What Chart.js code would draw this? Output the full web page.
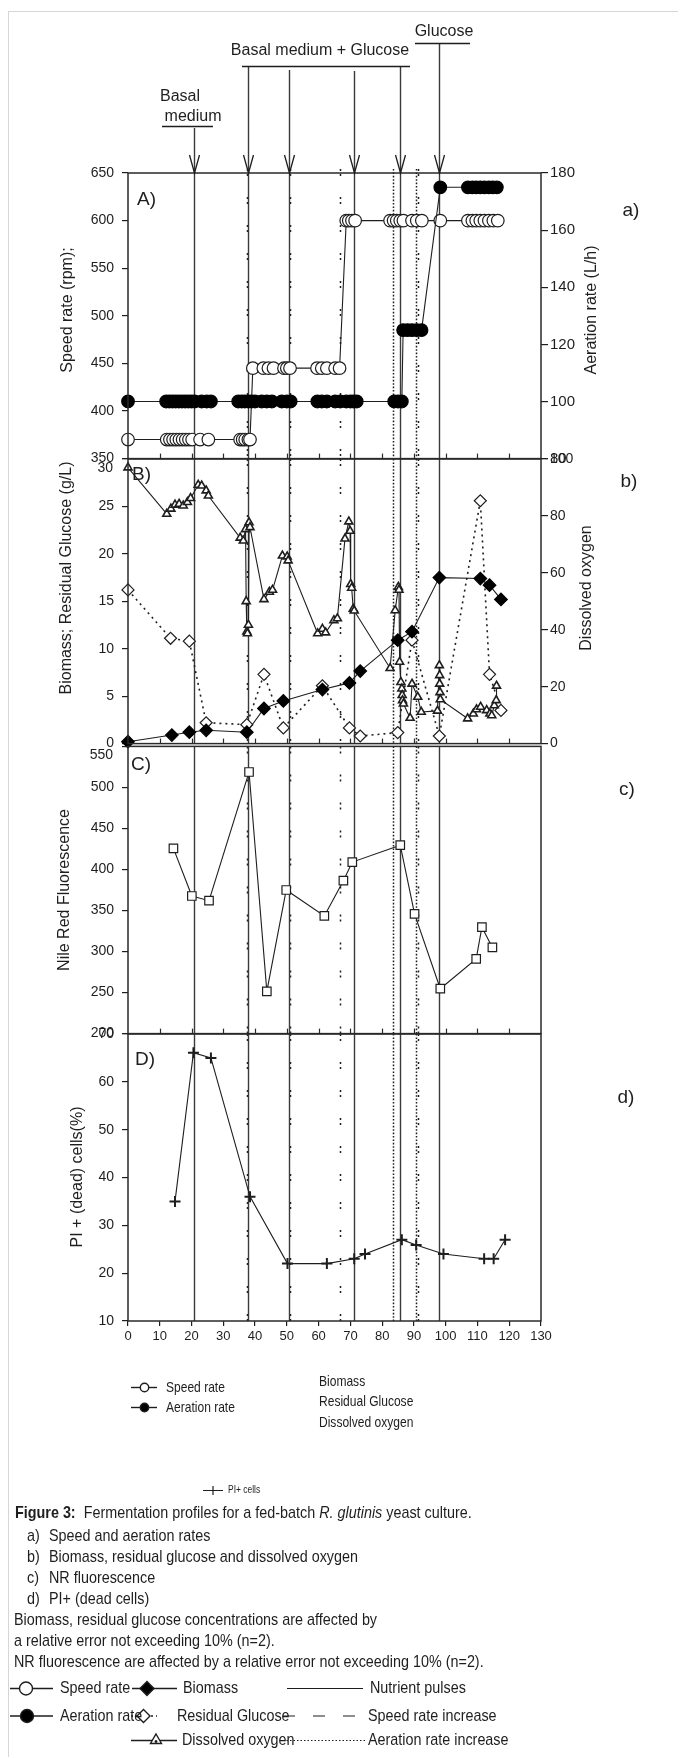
<!DOCTYPE html>
<html>
<head>
<meta charset="utf-8">
<title>Fermentation profiles - fed-batch R. glutinis</title>
<script src="https://cdn.jsdelivr.net/npm/chart.js@4.4.1/dist/chart.umd.min.js"></script>
<style>
  html, body { margin: 0; padding: 0; background: #fff; }
  #fig { position: relative; width: 684px; height: 1758px; overflow: hidden;
         font-family: "Liberation Sans", Arial, Helvetica, sans-serif; color: #1e1e1e; }
  #fig canvas { position: absolute; left: 0; }
  .frame { position: absolute; left: 8px; top: 11px; right: 6px; bottom: 1px;
           border-left: 1px solid #d6d6d6; border-top: 1px solid #d6d6d6; }
  .t { position: absolute; white-space: nowrap; line-height: 1; font-size: 17px;
       transform: scaleX(.845); transform-origin: 0 0; }
  .s { font-size: 14.5px; transform: scaleX(.83); }
  .xs { font-size: 10px; }
  svg { position: absolute; left: 0; top: 0; }
</style>
</head>
<body>
<div id="fig">
  <div class="frame"></div>
  <canvas id="panelA" width="684" height="475" style="top:0"></canvas>
  <canvas id="panelB" width="684" height="320" style="top:440px"></canvas>
  <canvas id="panelC" width="684" height="320" style="top:730px"></canvas>
  <canvas id="panelD" width="684" height="345" style="top:1015px"></canvas>

  <svg width="684" height="1758">
    <g stroke="#1e1e1e" stroke-width="1.4" fill="none">
      <!-- legend under the plots -->
      <line x1="131" y1="1387.5" x2="157" y2="1387.5"/><circle cx="144.5" cy="1387.5" r="4.2" fill="#fff"/>
      <line x1="131" y1="1407.5" x2="157" y2="1407.5"/><circle cx="144.5" cy="1407.5" r="4.2" fill="#000"/>
      <line x1="203" y1="1490.5" x2="223" y2="1490.5" stroke-width="1"/><line x1="213" y1="1486" x2="213" y2="1495" stroke-width="1.2"/>
      <!-- caption legend -->
      <line x1="10" y1="1688.5" x2="53" y2="1688.5"/><circle cx="26" cy="1688.5" r="6.5" fill="#fff"/>
      <line x1="132" y1="1688.5" x2="177" y2="1688.5"/><path d="M147 1681.5 L154 1688.5 L147 1695.5 L140 1688.5 Z" fill="#000"/>
      <line x1="287" y1="1688.5" x2="363" y2="1688.5" stroke-width="1.1"/>
      <line x1="10" y1="1716" x2="53" y2="1716"/><circle cx="27" cy="1716" r="6.5" fill="#000"/>
      <line x1="131" y1="1716" x2="157" y2="1716" stroke-dasharray="2,3"/><path d="M143.5 1709.5 L150 1716 L143.5 1722.5 L137 1716 Z" fill="#fff"/>
      <line x1="283" y1="1716" x2="355" y2="1716" stroke-dasharray="12,18" stroke-width="1.1"/>
      <line x1="131" y1="1740.5" x2="177" y2="1740.5"/><path d="M156 1734 L161.5 1743.5 L150.5 1743.5 Z" fill="#fff"/><circle cx="156" cy="1741.5" r="0.8" fill="#000"/>
      <line x1="283" y1="1740.5" x2="367" y2="1740.5" stroke-dasharray="1.5,2" stroke-width="1.1"/>
    </g>
  </svg>

  <div class="t s" style="left:166px;top:1380px">Speed rate</div>
  <div class="t s" style="left:166px;top:1400px">Aeration rate</div>
  <div class="t s" style="left:319px;top:1374px">Biomass</div>
  <div class="t s" style="left:319px;top:1394px">Residual Glucose</div>
  <div class="t s" style="left:319px;top:1415px">Dissolved oxygen</div>
  <div class="t xs" style="left:228px;top:1485px">PI+ cells</div>

  <div class="t" style="left:15px;top:1504px"><b>Figure 3:</b>&nbsp; Fermentation profiles for a fed-batch <i>R. glutinis</i> yeast culture.</div>
  <div class="t" style="left:27px;top:1527px">a)</div><div class="t" style="left:49px;top:1527px">Speed and aeration rates</div>
  <div class="t" style="left:27px;top:1548px">b)</div><div class="t" style="left:49px;top:1548px">Biomass, residual glucose and dissolved oxygen</div>
  <div class="t" style="left:27px;top:1569px">c)</div><div class="t" style="left:49px;top:1569px">NR fluorescence</div>
  <div class="t" style="left:27px;top:1590px">d)</div><div class="t" style="left:49px;top:1590px">PI+ (dead cells)</div>
  <div class="t" style="left:14px;top:1611px">Biomass, residual glucose concentrations are affected by</div>
  <div class="t" style="left:14px;top:1632px">a relative error not exceeding 10% (n=2).</div>
  <div class="t" style="left:14px;top:1653px">NR fluorescence are affected by a relative error not exceeding 10% (n=2).</div>
  <div class="t" style="left:60px;top:1679px">Speed rate</div>
  <div class="t" style="left:183px;top:1679px">Biomass</div>
  <div class="t" style="left:370px;top:1679px">Nutrient pulses</div>
  <div class="t" style="left:60px;top:1707px">Aeration rate</div>
  <div class="t" style="left:177px;top:1707px">Residual Glucose</div>
  <div class="t" style="left:368px;top:1707px">Speed rate increase</div>
  <div class="t" style="left:182px;top:1731px">Dissolved oxygen</div>
  <div class="t" style="left:368px;top:1731px">Aeration rate increase</div>
</div>

<script>
const FONT = '"Liberation Sans", Arial, Helvetica, sans-serif';
const INK = '#1e1e1e';
Chart.defaults.font.family = FONT;
Chart.defaults.color = INK;

// shared time axis (h)
const timeTicks = [0, 10, 20, 30, 40, 50, 60, 70, 80, 90, 100, 110, 120, 130];
// event lines (h)
const nutrientPulses = [20.7, 37.7, 50.6, 71.1, 85.5, 98];
const speedRateIncrease = [37.4, 50.9, 66.8, 91.4];
const aerationRateIncrease = [83.3, 90.7];

// A) speed and aeration rates
const speedTicks = [350, 400, 450, 500, 550, 600, 650];
const aerationTicks = [80, 100, 120, 140, 160, 180];
const speedTime = [0, 12.2, 13.2, 14.2, 15.2, 16.2, 17.2, 18.2, 19.2, 20.2, 22.7, 25.3,
  35.3, 36.1, 36.9, 37.9, 38.4, 39.3, 42.6, 44.2, 45.8, 49.1, 50.0, 51.0, 59.5, 61.0,
  62.6, 65.2, 66.6, 68.7, 69.5, 70.5, 71.5, 82.5, 83.6, 84.6, 85.7, 86.7, 89.4, 90.9,
  92.5, 98.3, 107.0, 108.4, 109.6, 110.9, 112.2, 113.6, 115.0, 116.4];
const speedRpm = [370, 370, 370, 370, 370, 370, 370, 370, 370, 370, 370, 370,
  370, 370, 370, 370, 370, 445, 445, 445, 445, 445, 445, 445, 445, 445,
  445, 445, 445, 600, 600, 600, 600, 600, 600, 600, 600, 600, 600, 600,
  600, 600, 600, 600, 600, 600, 600, 600, 600, 600];
const aerationTime = [0, 12.0, 13.0, 14.0, 15.0, 16.0, 17.0, 18.0, 19.0, 20.0, 21.0,
  23.2, 24.8, 26.1, 34.7, 35.8, 36.8, 37.9, 38.9, 40.0, 42.1, 43.7, 45.3, 48.4, 50.0,
  51.2, 59.6, 61.0, 62.6, 65.2, 66.8, 68.7, 70.0, 71.0, 72.0, 83.8, 85.0, 86.2,
  86.6, 88.0, 89.4, 90.9, 92.4, 98.3, 107.0, 108.4, 109.6, 110.9, 112.2, 113.6, 114.8, 116.1];
const aerationRate = [100, 100, 100, 100, 100, 100, 100, 100, 100, 100, 100,
  100, 100, 100, 100, 100, 100, 100, 100, 100, 100, 100, 100, 100, 100,
  100, 100, 100, 100, 100, 100, 100, 100, 100, 100, 100, 100, 100,
  125, 125, 125, 125, 125, 175, 175, 175, 175, 175, 175, 175, 175, 175];

// B) biomass, residual glucose (g/L) and dissolved oxygen
const biomassTicks = [0, 5, 10, 15, 20, 25, 30];
const oxygenTicks = [0, 20, 40, 60, 80, 100];
const oxygenTime = [0, 12.2, 13.5, 14.8, 16.1, 17.4, 18.7, 19.7, 22.1, 23.2, 24.6, 25.3,
  35.3, 36.3, 37.0, 37.2, 37.4, 37.6, 37.9, 38.1, 38.4, 42.8, 44.5, 45.5, 48.6, 50.1, 50.4,
  59.7, 61.2, 62.2, 64.8, 65.9, 68.3, 69.5, 69.9, 70.1, 70.4, 70.9, 71.2,
  82.5, 84.1, 85.1, 85.3, 85.5, 85.9, 86.2, 86.3, 86.4, 86.7, 88.8, 89.4, 91.2, 92.3,
  97.4, 98.0, 98.1, 98.1, 98.2, 98.3, 106.9, 108.7, 109.7, 111.0, 112.9, 113.9, 114.5,
  115.3, 115.9, 116.0];
const oxygenValue = [97, 80.7, 82.5, 83.9, 84.2, 83.6, 84.8, 86.2, 90.9, 90.6, 88.9, 87.1,
  72.3, 71.3, 75.3, 50, 39.3, 38.7, 41.7, 77.7, 76, 50.7, 53.3, 54, 66, 65.7, 64.3,
  38.7, 40.3, 39, 43.3, 44, 72, 78, 74.7, 56, 54.7, 47.3, 46.7,
  26.5, 46.8, 55, 54, 28.7, 21.6, 19.3, 17, 15.2, 14, 9.0, 21, 16.4, 11.1,
  11.5, 27.5, 24, 21, 18, 15.5, 8.8, 10.5, 12, 12.9, 11.7, 10.5, 9.9,
  13.4, 15.2, 20.3];
const biomassTime = [0, 13.8, 19.3, 24.6, 37.4, 42.8, 48.9, 61.2, 69.7, 73.1, 84.9, 89.4, 98, 110.9, 113.8, 117.4];
const biomassGL = [0.2, 0.9, 1.2, 1.4, 1.2, 3.7, 4.5, 5.7, 6.4, 7.65, 10.9, 11.8, 17.5, 17.4, 16.7, 15.2];
const glucoseTime = [0, 13.4, 19.3, 24.6, 37.4, 42.8, 48.9, 61.2, 69.7, 73.1, 84.9, 89.4, 98, 110.9, 113.8, 117.4];
const glucoseGL = [16.2, 11.1, 10.8, 2.2, 2.0, 7.3, 1.65, 6.1, 1.65, 0.8, 1.16, 10.9, 0.8, 25.6, 7.3, 3.5];

// C) Nile Red fluorescence
const nrTicks = [200, 250, 300, 350, 400, 450, 500, 550];
const nrTime = [14.3, 20.1, 25.5, 38.1, 43.7, 49.8, 61.8, 67.8, 70.6, 85.7, 90.2, 98.3, 109.6, 111.4, 114.7];
const nrValue = [425.7, 367.7, 362, 518.8, 251.5, 375, 343.4, 386.4, 409, 429.7, 345.9, 254.7, 291, 329.7, 305];

// D) PI+ (dead) cells (%)
const piTicks = [10, 20, 30, 40, 50, 60, 70];
const piTime = [14.8, 20.6, 26.1, 38.4, 50.2, 62.6, 71.2, 74.6, 86.2, 90.7, 99.3, 112.1, 115.1, 118.7];
const piValue = [35, 66.1, 65, 36, 22, 22, 23, 24, 27, 25.9, 24, 23, 23, 27];

const pts = (xs, ys) => xs.map((x, i) => ({ x, y: ys[i] }));

// page-level decoration for each panel (page coordinates)
const panelDecor = {
  panelA: {
    top: 0, innerTicks: true, arrows: true, overTop: 4,
    pulseTops: [128, 66, 70, 71, 66, 43],
    letter: ['A)', 137, 200], side: ['a)', 631, 211],
    leftTitle: ['Speed rate (rpm);', 68, 310], rightTitle: ['Aeration rate (L/h)', 592, 310],
    notes: [['Basal', 180, 97], ['medium', 193, 117], ['Basal medium + Glucose', 320, 51], ['Glucose', 444, 32]],
    bars: [[162, 213, 126], [242, 410, 66], [415, 470, 43]]
  },
  panelB: {
    top: 440, innerTicks: true,
    letter: ['B)', 132, 475], side: ['b)', 629, 482],
    leftTitle: ['Biomass; Residual Glucose (g/L)', 67, 578], rightTitle: ['Dissolved oxygen', 587, 588],
    shiftedTick: [biomassTicks[biomassTicks.length - 1], 113, 468]
  },
  panelC: {
    top: 730, innerTicks: true,
    letter: ['C)', 131, 765], side: ['c)', 627, 790],
    leftTitle: ['Nile Red Fluorescence', 65, 890],
    shiftedTick: [nrTicks[nrTicks.length - 1], 113, 755]
  },
  panelD: {
    top: 1015,
    letter: ['D)', 135, 1060], side: ['d)', 626, 1098],
    leftTitle: ['PI + (dead) cells(%)', 78, 1177]
  }
};

const decor = {
  id: 'decor',
  beforeDatasetsDraw(chart) {
    const o = panelDecor[chart.canvas.id];
    const { ctx, chartArea: a, scales: { x } } = chart;
    const vline = (v, y0, dash, w, col) => {
      const px = Math.round(x.getPixelForValue(v)) + 0.5;
      ctx.save();
      ctx.strokeStyle = col; ctx.lineWidth = w; ctx.setLineDash(dash);
      ctx.beginPath(); ctx.moveTo(px, y0); ctx.lineTo(px, a.bottom); ctx.stroke();
      ctx.restore();
    };
    const top = a.top - (o.overTop || 0);
    speedRateIncrease.forEach(v => vline(v, top, [2, 3, 2, 21], 1.5, INK));
    aerationRateIncrease.forEach(v => vline(v, top, [1.6, 1.8], 1.5, INK));
    nutrientPulses.forEach((v, i) => vline(v, o.pulseTops ? o.pulseTops[i] - o.top : a.top, [], 1.4, '#3a3a3a'));
  },
  afterDraw(chart) {
    const o = panelDecor[chart.canvas.id];
    const { ctx, chartArea: a, scales: { x } } = chart;
    const T = o.top;
    const txt = (s, px, py, size, align, rot) => {
      ctx.save();
      ctx.translate(px, py - T); ctx.rotate(rot || 0);
      ctx.font = size + 'px ' + FONT; ctx.fillStyle = INK;
      ctx.textAlign = align; ctx.textBaseline = 'middle';
      ctx.fillText(s, 0, 0);
      ctx.restore();
    };
    ctx.save();
    ctx.strokeStyle = '#2a2a2a'; ctx.lineWidth = 1.5;
    ctx.strokeRect(a.left, a.top, a.right - a.left, a.bottom - a.top);
    if (o.innerTicks) {
      ctx.lineWidth = 1.2;
      timeTicks.slice(1, -1).forEach(v => {
        const px = Math.round(x.getPixelForValue(v)) + 0.5;
        ctx.beginPath(); ctx.moveTo(px, a.bottom); ctx.lineTo(px, a.bottom - 5); ctx.stroke();
      });
    }
    if (o.arrows) {
      ctx.strokeStyle = INK; ctx.lineWidth = 1.3;
      nutrientPulses.forEach(v => {
        const px = Math.round(x.getPixelForValue(v)) + 0.5;
        ctx.beginPath(); ctx.moveTo(px - 5, a.top - 18); ctx.lineTo(px, a.top); ctx.lineTo(px + 5, a.top - 18); ctx.stroke();
      });
      ctx.lineWidth = 1.4;
      o.bars.forEach(b => {
        ctx.beginPath(); ctx.moveTo(b[0], b[2] - T + 0.5); ctx.lineTo(b[1], b[2] - T + 0.5); ctx.stroke();
      });
      o.notes.forEach(n => txt(n[0], n[1], n[2], 16, 'center'));
    }
    ctx.restore();
    txt(o.letter[0], o.letter[1], o.letter[2], 19, 'left');
    txt(o.side[0], o.side[1], o.side[2], 19, 'center');
    txt(o.leftTitle[0], o.leftTitle[1], o.leftTitle[2], 16, 'center', -Math.PI / 2);
    if (o.rightTitle) txt(o.rightTitle[0], o.rightTitle[1], o.rightTitle[2], 16, 'center', -Math.PI / 2);
    if (o.shiftedTick) txt(String(o.shiftedTick[0]), o.shiftedTick[1], o.shiftedTick[2], 14, 'right');
  }
};

function yScale(ticks, position, size, hideValue) {
  const left = position === 'left';
  return {
    type: 'linear', position,
    min: ticks[0], max: ticks[ticks.length - 1],
    afterBuildTicks: s => { s.ticks = ticks.map(v => ({ value: v })); },
    afterFit: s => { s.width = left ? 128 : 143; },
    ticks: { color: INK, padding: left ? 8 : 2, font: { size, family: FONT },
             callback: v => (v === hideValue ? '' : v) },
    grid: { drawOnChartArea: false, tickLength: left ? 6 : 7, color: INK, lineWidth: 1.2 },
    border: { display: false }
  };
}

function timeScale(labelled) {
  return {
    type: 'linear', min: timeTicks[0], max: timeTicks[timeTicks.length - 1], display: labelled,
    afterBuildTicks: s => { s.ticks = timeTicks.map(v => ({ value: v })); },
    afterFit: s => { s.height = labelled ? 39 : 0; },
    ticks: { color: INK, padding: 3, maxRotation: 0, autoSkip: false, font: { size: 13, family: FONT } },
    grid: { drawOnChartArea: false, tickLength: 5, color: INK, lineWidth: 1.2 },
    border: { display: false }
  };
}

function series(data, axis, style) {
  return Object.assign({
    data, yAxisID: axis, showLine: true, clip: false,
    borderColor: INK, borderWidth: 1.1,
    pointBorderColor: INK, pointBorderWidth: 1.2, pointHoverRadius: 0
  }, style);
}

function makePanel(id, padding, scales, datasets) {
  return new Chart(document.getElementById(id), {
    type: 'scatter',
    data: { datasets },
    options: {
      responsive: false, animation: false, events: [],
      layout: { padding },
      scales,
      plugins: { legend: { display: false }, tooltip: { enabled: false } }
    },
    plugins: [decor]
  });
}

// --- A) speed and aeration rates ---
makePanel('panelA', { top: 173, bottom: 16, left: 0, right: 0 }, {
  x: timeScale(false),
  y: yScale(speedTicks, 'left', 14),
  y2: yScale(aerationTicks, 'right', 15)
}, [
  series(pts(aerationTime, aerationRate), 'y2', { label: 'Aeration rate', order: 1,
    pointStyle: 'circle', pointRadius: 6.3, pointBackgroundColor: '#000', pointBorderColor: '#000' }),
  series(pts(speedTime, speedRpm), 'y', { label: 'Speed rate', order: 2,
    pointStyle: 'circle', pointRadius: 6.3, pointBackgroundColor: '#fff' })
]);

// --- B) biomass, residual glucose, dissolved oxygen ---
makePanel('panelB', { top: 19, bottom: 14, left: 0, right: 0 }, {
  x: timeScale(false),
  y: yScale(biomassTicks, 'left', 14, biomassTicks[biomassTicks.length - 1]),
  y2: yScale(oxygenTicks, 'right', 14)
}, [
  series(pts(biomassTime, biomassGL), 'y', { label: 'Biomass', order: 1,
    pointStyle: 'rectRot', pointRadius: 6.3, pointBackgroundColor: '#000', pointBorderColor: '#000' }),
  series(pts(oxygenTime, oxygenValue), 'y2', { label: 'Dissolved oxygen', order: 2,
    pointStyle: 'triangle', pointRadius: 4.6, pointBorderWidth: 1.6, pointBackgroundColor: '#fff' }),
  series(pts(glucoseTime, glucoseGL), 'y', { label: 'Residual Glucose', order: 3,
    borderDash: [2, 4], borderWidth: 1.6,
    pointStyle: 'rectRot', pointRadius: 6, pointBackgroundColor: '#fff' })
]);

// --- C) Nile Red fluorescence ---
makePanel('panelC', { top: 16, bottom: 16, left: 0, right: 143 }, {
  x: timeScale(false),
  y: yScale(nrTicks, 'left', 14, nrTicks[nrTicks.length - 1])
}, [
  series(pts(nrTime, nrValue), 'y', { label: 'NR fluorescence',
    pointStyle: 'rect', pointRadius: 6, pointBackgroundColor: '#fff' })
]);

// --- D) PI+ (dead) cells ---
makePanel('panelD', { top: 19, bottom: 0, left: 0, right: 143 }, {
  x: timeScale(true),
  y: yScale(piTicks, 'left', 14)
}, [
  series(pts(piTime, piValue), 'y', { label: 'PI+ cells',
    pointStyle: 'cross', pointRadius: 5.5, pointBorderWidth: 2 })
]);
</script>
</body>
</html>
